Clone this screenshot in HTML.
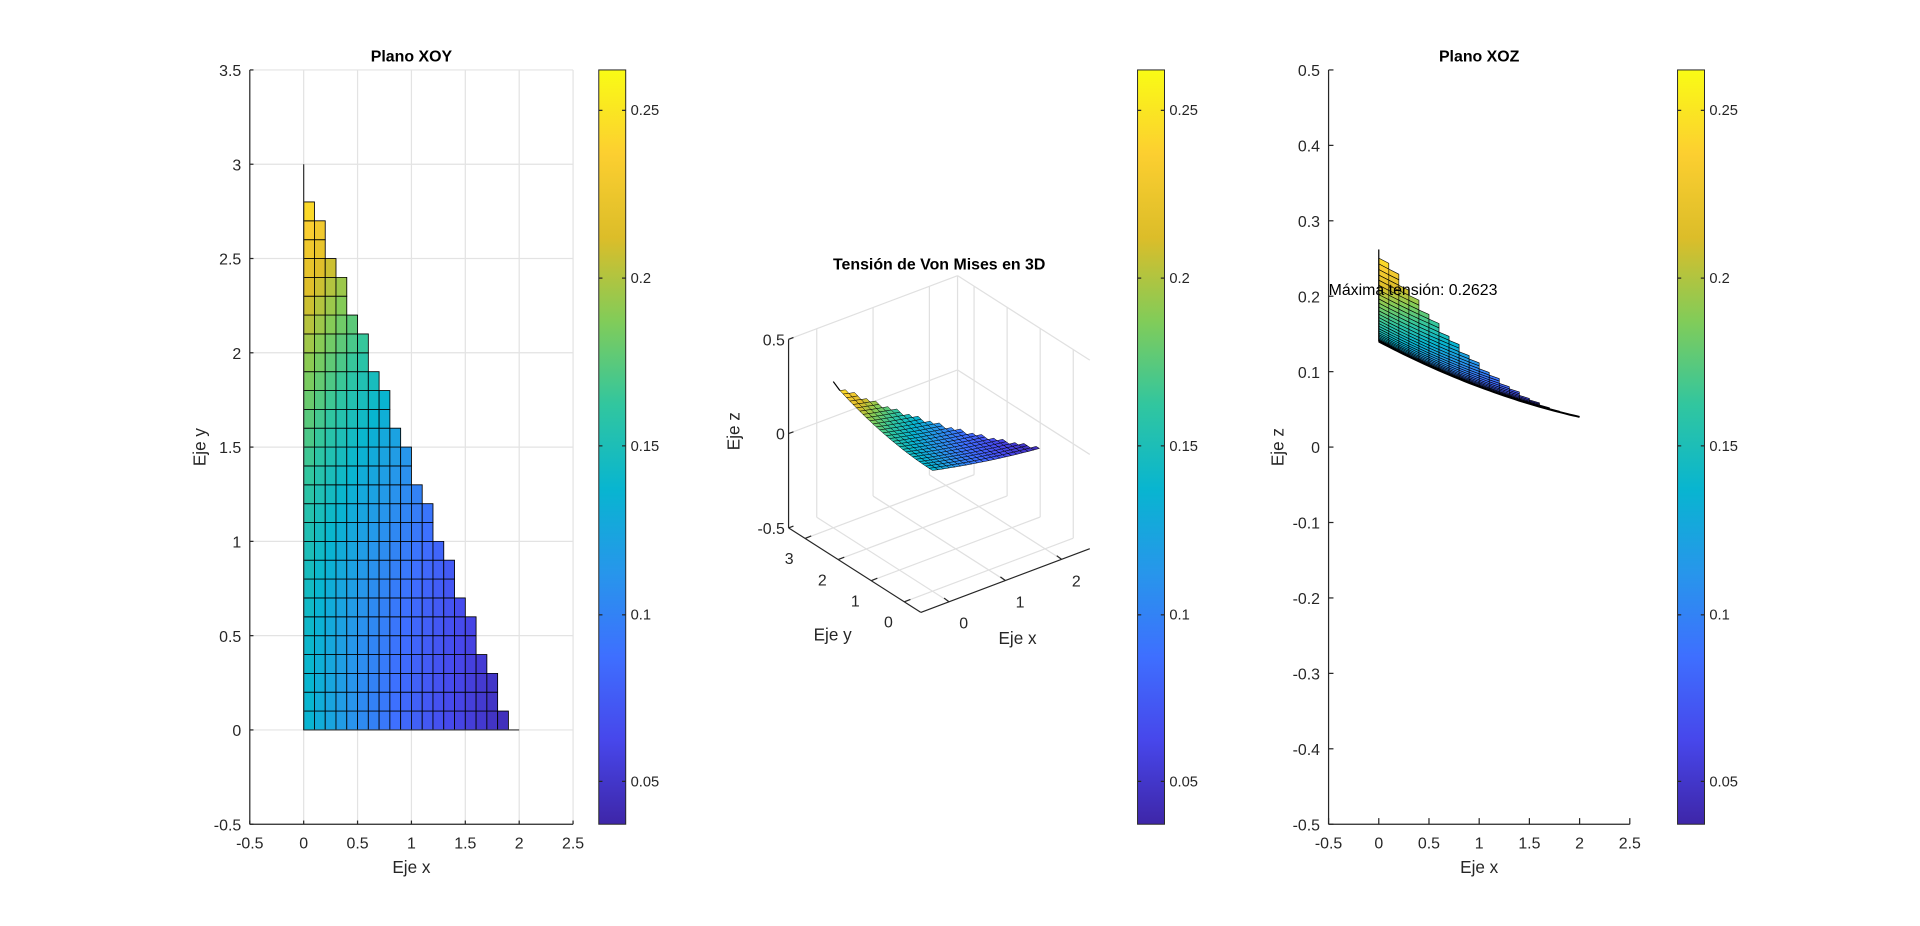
<!DOCTYPE html>
<html><head><meta charset="utf-8">
<style>
html,body{margin:0;padding:0;background:#fff;overflow:hidden}
svg{display:block}
text{font-family:"Liberation Sans",Arial,sans-serif;fill:#262626}
</style></head>
<body>
<svg id="s" width="1920" height="926" viewBox="0 0 1568 756" xmlns="http://www.w3.org/2000/svg">
<defs>
<linearGradient id="cb" x1="0" y1="1" x2="0" y2="0">
<stop offset="0" stop-color="rgb(62,38,168)"/><stop offset="0.1111" stop-color="rgb(71,71,235)"/>
<stop offset="0.2222" stop-color="rgb(62,111,255)"/><stop offset="0.3333" stop-color="rgb(39,150,235)"/>
<stop offset="0.4444" stop-color="rgb(8,181,208)"/><stop offset="0.5556" stop-color="rgb(49,198,159)"/>
<stop offset="0.6667" stop-color="rgb(129,204,89)"/><stop offset="0.7778" stop-color="rgb(220,189,41)"/>
<stop offset="0.8889" stop-color="rgb(252,207,48)"/><stop offset="1" stop-color="rgb(249,251,21)"/></linearGradient>
</defs>
<g id="g"></g>
</svg>
<script>
var G=document.getElementById('g'),out='';
function L(x1,y1,x2,y2,c,w){out+='<line x1="'+x1+'" y1="'+y1+'" x2="'+x2+'" y2="'+y2+'" stroke="'+(c||'#262626')+'" stroke-width="'+(w||1)+'"/>';}
function T(x,y,s,a,sz,extra){out+='<text x="'+x+'" y="'+y+'" font-size="'+(sz||12)+'" text-anchor="'+(a||'middle')+'" '+(extra||'')+'>'+s+'</text>';}
var P=[[62,38,168],[71,71,235],[62,111,255],[39,150,235],[8,181,208],[49,198,159],[129,204,89],[220,189,41],[252,207,48],[249,251,21]];
function col(v){var t=(v-0.0372)/0.2251;t=Math.max(0,Math.min(1,t))*9;var i=Math.min(8,Math.floor(t)),f=t-i;
var c=P[i].map(function(a,k){return Math.round(a+(P[i+1][k]-a)*f)});return 'rgb('+c.join(',')+')';}
function V(x,y){return 0.14-0.07*x+0.01*x*x+0.0141*y*y;}
function xmax(j){var yt=(j+1)/10;return Math.floor(2*(1-yt/3)*10+1e-9)/10;}
var cells=[];for(var j=0;j<28;j++){var xm=xmax(j);for(var i=0;i<Math.round(xm*10);i++)cells.push([i/10,j/10]);}
function poly(pts,fill,sw){out+='<polygon points="'+pts.map(function(p){return p[0].toFixed(1)+','+p[1].toFixed(1)}).join(' ')+'" fill="'+fill+'" stroke="#000" stroke-width="'+(sw||0.6)+'"/>';}

// ---------- XOY ----------
var ax=function(x){return 248+88*x},ay=function(y){return 596-154*y};
for(var k=0;k<=6;k++){var xv=-0.5+k*0.5;if(k>0)L(ax(xv),57,ax(xv),673,'#e3e3e3');}
for(var k=0;k<=8;k++){var yv=-0.5+k*0.5;if(k>0)L(204,ay(yv),468,ay(yv),'#e3e3e3');}
cells.forEach(function(c){var x=c[0],y=c[1];var v=V(x+0.05,y+0.05);
poly([[ax(x),ay(y)],[ax(x+0.1),ay(y)],[ax(x+0.1),ay(y+0.1)],[ax(x),ay(y+0.1)]],col(v),0.7);});
L(248,596,248,ay(3),'#333');L(248,596,ax(2),596,'#333');
L(204,57,204,673);L(204,673,468,673);
for(var k=0;k<=6;k++){var xv=-0.5+k*0.5;L(ax(xv),673,ax(xv),670);T(ax(xv),693,String(xv),'middle',13);}
for(var k=0;k<=8;k++){var yv=-0.5+k*0.5;L(204,ay(yv),207,ay(yv));T(197,ay(yv)+5,String(yv),'end',13);}
T(336,50,'Plano XOY','middle',13,'font-weight="bold" style="fill:#000"');
T(336,713,'Eje x','middle',14);
T(168,365,'Eje y','middle',14,'transform="rotate(-90 168 365)"');

// ---------- colorbars ----------
[489,929,1370].forEach(function(cx){
out+='<rect x="'+cx+'" y="57" width="22" height="616" fill="url(#cb)" stroke="#262626" stroke-width="0.8"/>';
[[0.25,90],[0.2,227],[0.15,364],[0.1,502],[0.05,638]].forEach(function(t){
L(cx,t[1],cx+3,t[1]);L(cx+19,t[1],cx+22,t[1]);T(cx+26,t[1]+4,String(t[0]),'start',12);});});

// ---------- 3D ----------
function S(x,y,z){return [752+(x+0.5)*46-(y+0.5)*27,500-(x+0.5)*17.33-(y+0.5)*17.25-(z+0.5)*154];}
var gc='#e0e0e0';
function LL(a,b,c,w){L(a[0].toFixed(1),a[1].toFixed(1),b[0].toFixed(1),b[1].toFixed(1),c,w);}
[0,1,2].forEach(function(x){LL(S(x,-0.5,-0.5),S(x,3.5,-0.5),gc);LL(S(x,3.5,-0.5),S(x,3.5,0.5),gc);});
[0,1,2,3].forEach(function(y){LL(S(-0.5,y,-0.5),S(2.5,y,-0.5),gc);LL(S(2.5,y,-0.5),S(2.5,y,0.5),gc);});
LL(S(-0.5,3.5,0),S(2.5,3.5,0),gc);LL(S(2.5,-0.5,0),S(2.5,3.5,0),gc);
LL(S(-0.5,3.5,0.5),S(2.5,3.5,0.5),gc);LL(S(2.5,3.5,0.5),S(2.5,-0.5,0.5),gc);
LL(S(2.5,3.5,-0.5),S(2.5,3.5,0.5),gc);
LL(S(-0.5,3.5,-0.5),S(-0.5,3.5,0.5),'#262626');
LL(S(-0.5,-0.5,-0.5),S(-0.5,3.5,-0.5),'#262626');
LL(S(-0.5,-0.5,-0.5),S(2.5,-0.5,-0.5),'#262626');
[-0.5,0,0.5].forEach(function(z){var p=S(-0.5,3.5,z);LL(p,[p[0]+4,p[1]-1.5]);T(p[0]-3,p[1]+5,String(z),'end',13);});
[0,1,2,3].forEach(function(y){var p=S(-0.5,y,-0.5);LL(p,[p[0]+5,p[1]-2]);T(p[0]-13,p[1]+21,String(y),'middle',13);});
[0,1,2].forEach(function(x){var p=S(x,-0.5,-0.5);LL(p,[p[0]-4,p[1]-3]);T(p[0]+12,p[1]+22,String(x),'middle',13);});
var c3=cells.slice().sort(function(a,b){return (b[0]+b[1])-(a[0]+a[1]);});
c3.forEach(function(c){var x=c[0],y=c[1];
poly([S(x,y,V(x,y)),S(x+0.1,y,V(x+0.1,y)),S(x+0.1,y+0.1,V(x+0.1,y+0.1)),S(x,y+0.1,V(x,y+0.1))],col(V(x+0.05,y+0.05)),0.4);});
LL(S(0,2.8,V(0,2.8)),S(0,3,V(0,3.1)),'#000');
T(767,220,'Tensión de Von Mises en 3D','middle',13,'font-weight="bold" style="fill:#000"');
T(680,523,'Eje y','middle',14);T(831,526,'Eje x','middle',14);
T(604,352,'Eje z','middle',14,'transform="rotate(-90 604 352)"');

// ---------- XOZ ----------
var bx=function(x){return 1126+82*x},bz=function(z){return 365-616*z};
var c4=cells.slice().sort(function(a,b){return b[1]-a[1];});
c4.forEach(function(c){var x=c[0],y=c[1];
poly([[bx(x),bz(V(x,y))],[bx(x+0.1),bz(V(x+0.1,y))],[bx(x+0.1),bz(V(x+0.1,y+0.1))],[bx(x),bz(V(x,y+0.1))]],col(V(x+0.05,y+0.05)),0.5);});
var pl='';for(var x=0;x<=2.0001;x+=0.05)pl+=bx(x).toFixed(1)+','+bz(V(x,0)).toFixed(1)+' ';
out+='<polyline points="'+pl+'" fill="none" stroke="#000" stroke-width="1.6"/>';
L(1126,bz(0.14),1126,bz(0.262),'#000');
L(1085,57,1085,673);L(1085,673,1331,673);
for(var k=0;k<=6;k++){var xv=-0.5+k*0.5;L(bx(xv),673,bx(xv),668);T(bx(xv),693,String(xv),'middle',13);}
for(var k=0;k<=10;k++){var zv=Math.round((-0.5+k*0.1)*10)/10;L(1085,bz(zv),1089,bz(zv));T(1078,bz(zv)+5,String(zv),'end',13);}
T(1208,50,'Plano XOZ','middle',13,'font-weight="bold" style="fill:#000"');
T(1208,713,'Eje x','middle',14);
T(1048,365,'Eje z','middle',14,'transform="rotate(-90 1048 365)"');
T(1085,241,'Máxima tensión: 0.2623','start',13,'style="fill:#000"');
G.innerHTML=out;
</script>
</body></html>
